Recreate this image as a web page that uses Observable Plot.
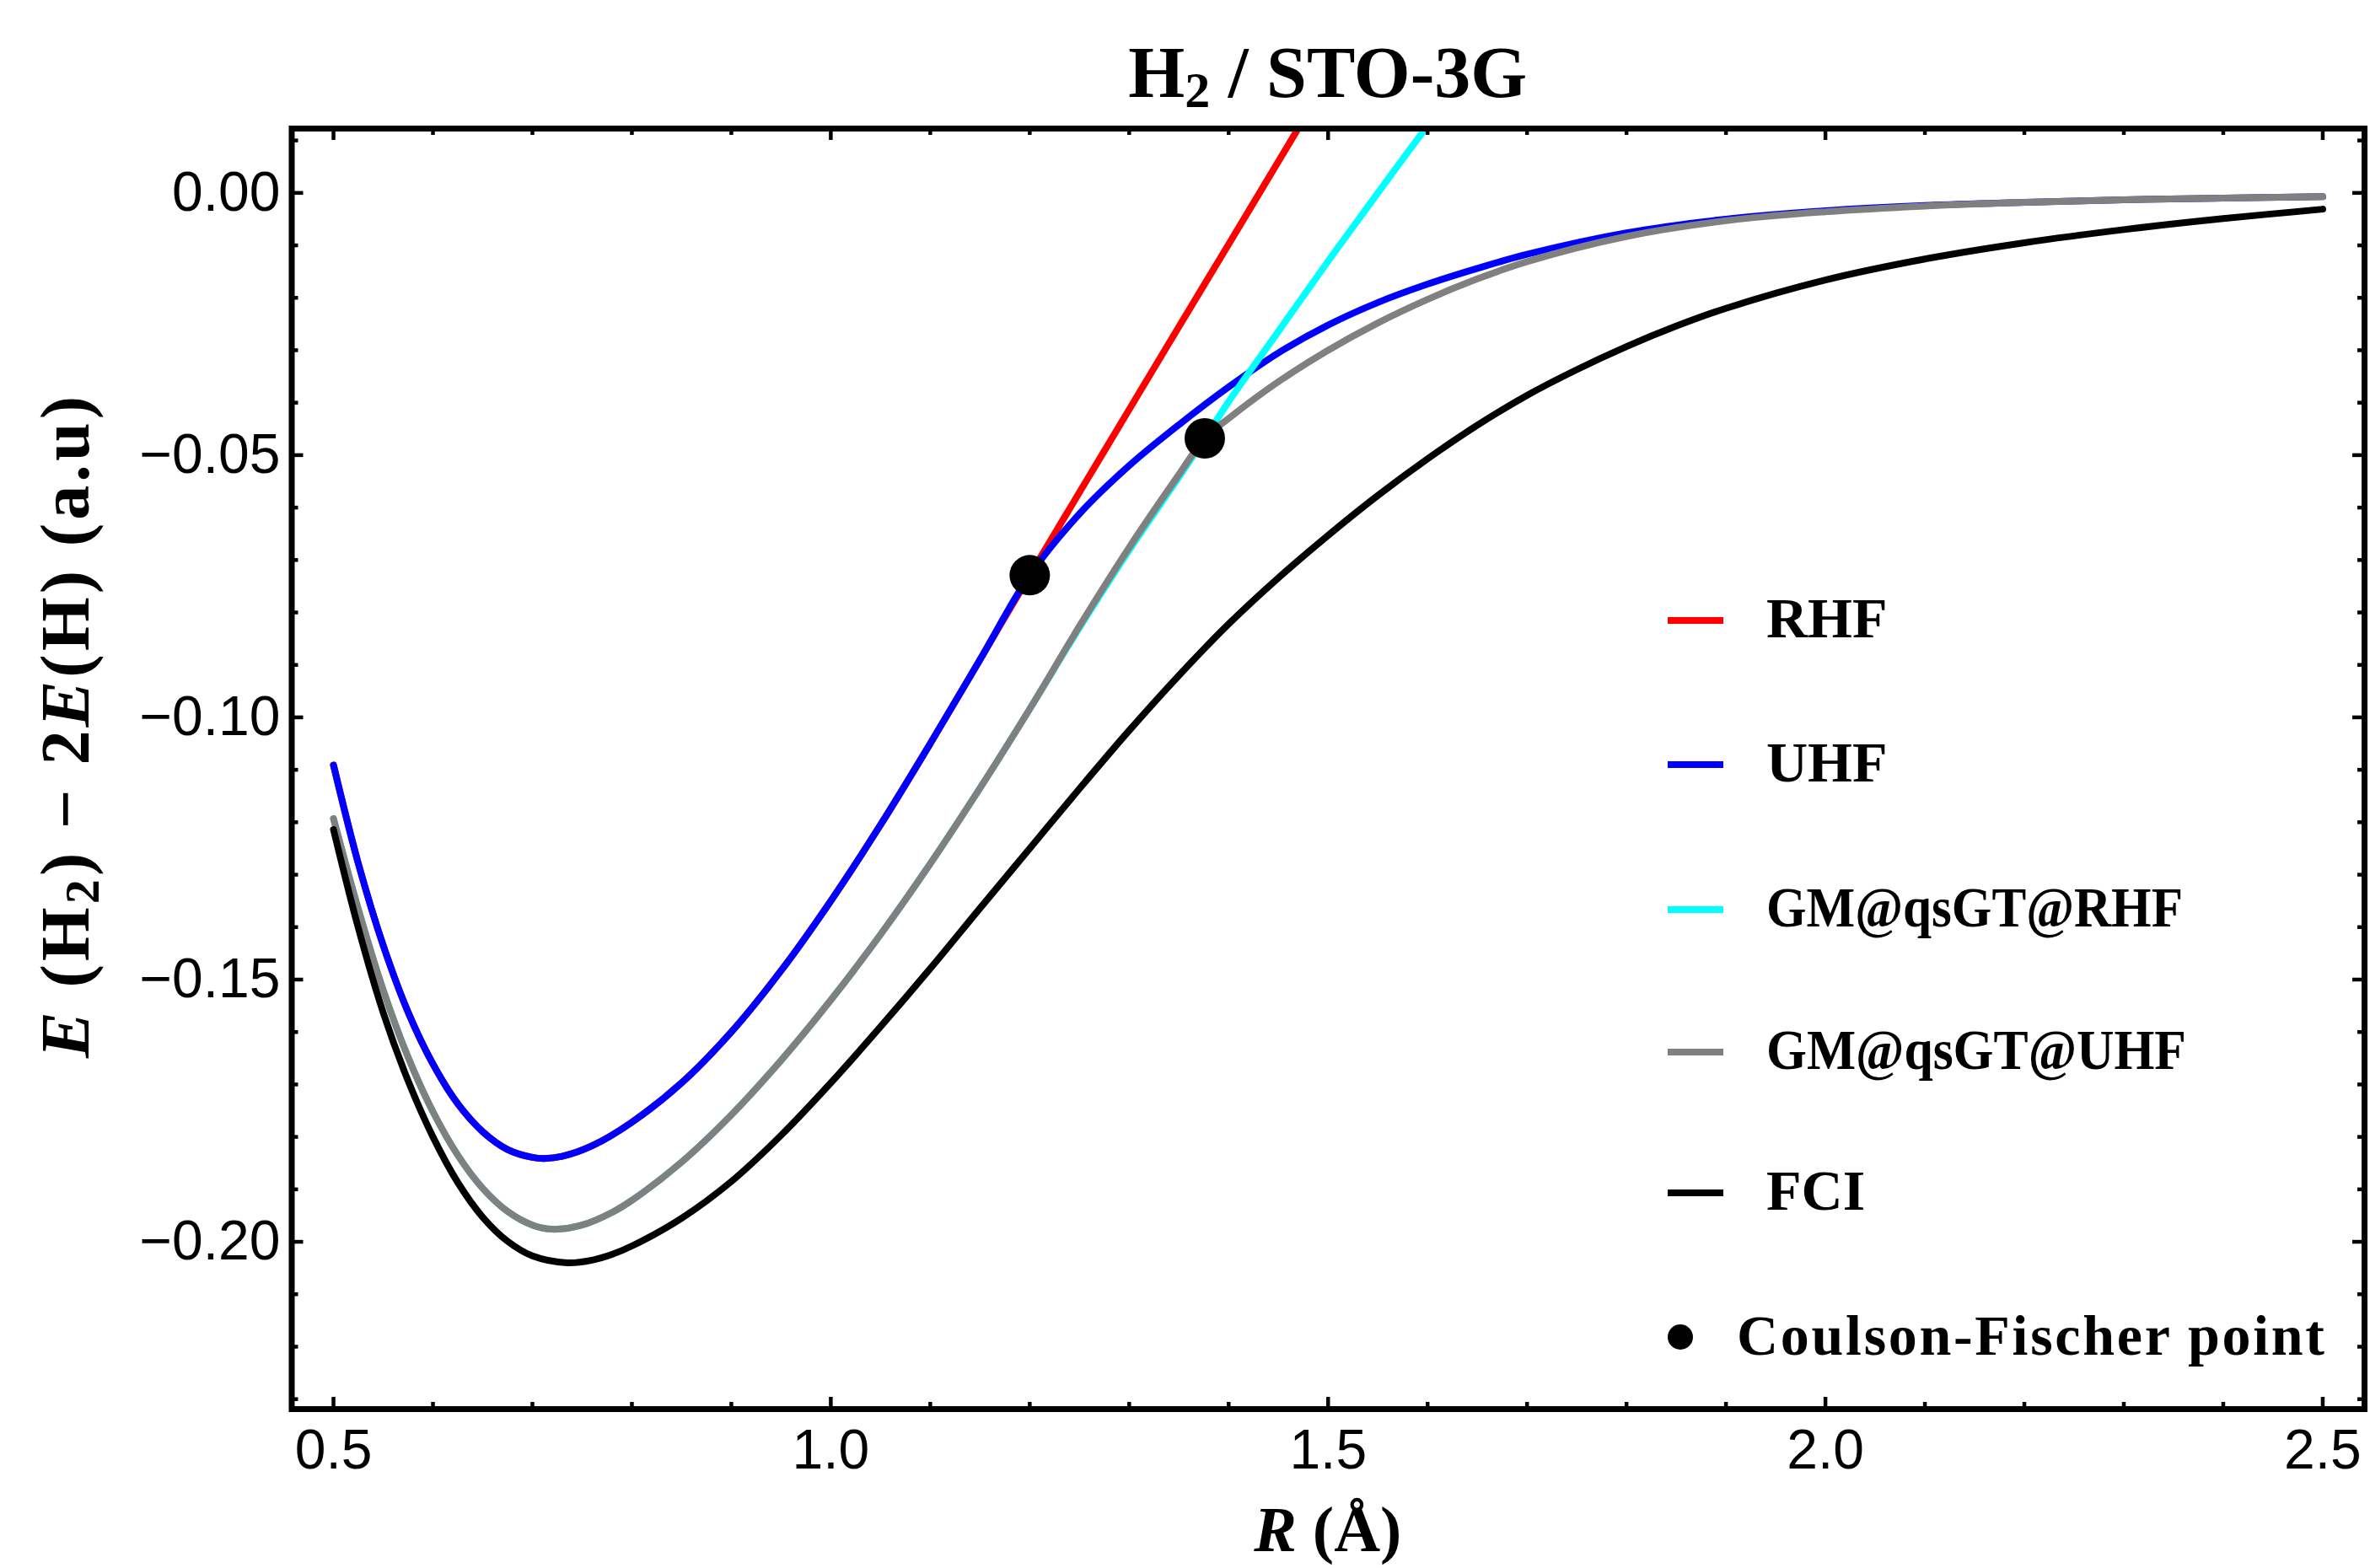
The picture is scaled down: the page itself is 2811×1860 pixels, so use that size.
<!DOCTYPE html>
<html><head><meta charset="utf-8">
<script src="https://cdn.jsdelivr.net/npm/d3@7"></script>
<script src="https://cdn.jsdelivr.net/npm/@observablehq/plot@0.6"></script>
<style>body{margin:0;background:#fff;}</style>
</head><body><div id="chart"></div>
<script>
// ---------------- data ----------------
const R_RHF = [0.50,0.525,0.55,0.575,0.60,0.625,0.65,0.675,0.70,0.712,0.73,0.76,0.80,0.85,0.90,0.95,1.00,1.05,1.10,1.15,1.20,1.25,1.30,1.35,1.40,1.45,1.50];
const E_RHF = [-0.1091,-0.1279,-0.1435,-0.1562,-0.1661,-0.1737,-0.1790,-0.1824,-0.1839,-0.1841,-0.1837,-0.1817,-0.1772,-0.1697,-0.1600,-0.1483,-0.1350,-0.1205,-0.1050,-0.0890,-0.0729,-0.0571,-0.0413,-0.0255,-0.0098,0.0060,0.0218];

const R_UHF = [0.50,0.525,0.55,0.575,0.60,0.625,0.65,0.675,0.70,0.712,0.73,0.76,0.80,0.85,0.90,0.95,1.00,1.05,1.10,1.15,1.20,1.25,1.30,1.35,1.40,1.45,1.50,1.55,1.60,1.65,1.70,1.80,1.90,2.00,2.10,2.20,2.30,2.40,2.50];
const E_UHF = [-0.1091,-0.1279,-0.1435,-0.1562,-0.1661,-0.1737,-0.1790,-0.1824,-0.1839,-0.1841,-0.1837,-0.1817,-0.1772,-0.1697,-0.1600,-0.1483,-0.1350,-0.1205,-0.1050,-0.0890,-0.0729,-0.0612,-0.0520,-0.0442,-0.0370,-0.0305,-0.0252,-0.0209,-0.0174,-0.0144,-0.0117,-0.0076,-0.0050,-0.0034,-0.0024,-0.0018,-0.0013,-0.0010,-0.0007];

const R_GMR = [0.50,0.525,0.55,0.575,0.60,0.625,0.65,0.675,0.70,0.72,0.75,0.78,0.80,0.85,0.90,0.95,1.00,1.05,1.10,1.15,1.20,1.25,1.30,1.35,1.376,1.40,1.45,1.50,1.55,1.60,1.65];
const E_GMR = [-0.1193,-0.1366,-0.1520,-0.1648,-0.1752,-0.1835,-0.1898,-0.1942,-0.1968,-0.1976,-0.1968,-0.1944,-0.1921,-0.1848,-0.1758,-0.1654,-0.1539,-0.1414,-0.1279,-0.1135,-0.0984,-0.0829,-0.0681,-0.0542,-0.0468,-0.0398,-0.0264,-0.0130,0.0000,0.0128,0.0250];

const R_GMU = [0.50,0.525,0.55,0.575,0.60,0.625,0.65,0.675,0.70,0.72,0.75,0.78,0.80,0.85,0.90,0.95,1.00,1.05,1.10,1.15,1.20,1.25,1.30,1.35,1.376,1.40,1.45,1.50,1.55,1.60,1.65,1.70,1.80,1.90,2.00,2.10,2.20,2.30,2.40,2.50];
const E_GMU = [-0.1193,-0.1366,-0.1520,-0.1648,-0.1752,-0.1835,-0.1898,-0.1942,-0.1968,-0.1976,-0.1968,-0.1944,-0.1921,-0.1848,-0.1758,-0.1654,-0.1539,-0.1414,-0.1279,-0.1135,-0.0984,-0.0826,-0.0676,-0.0537,-0.0468,-0.0430,-0.0360,-0.0300,-0.0248,-0.0203,-0.0164,-0.0131,-0.0083,-0.0053,-0.0036,-0.0025,-0.0018,-0.0013,-0.0010,-0.0007];

const R_FCI = [0.50,0.525,0.55,0.575,0.60,0.625,0.65,0.675,0.70,0.735,0.76,0.78,0.80,0.85,0.90,0.95,1.00,1.05,1.10,1.15,1.20,1.25,1.30,1.35,1.40,1.45,1.50,1.55,1.60,1.65,1.70,1.75,1.80,1.85,1.90,2.00,2.10,2.20,2.30,2.40,2.50];
const E_FCI = [-0.1214,-0.1402,-0.1563,-0.1693,-0.1800,-0.1887,-0.1953,-0.1999,-0.2027,-0.2040,-0.2035,-0.2024,-0.2008,-0.1955,-0.1885,-0.1797,-0.1697,-0.1590,-0.1479,-0.1364,-0.1250,-0.1136,-0.1025,-0.0920,-0.0822,-0.0734,-0.0653,-0.0577,-0.0507,-0.0443,-0.0386,-0.0337,-0.0293,-0.0254,-0.0220,-0.0166,-0.0126,-0.0095,-0.0070,-0.0049,-0.0031];

const R_CF = [1.200, 1.376];
const E_CF = [-0.0729, -0.0468];

const xMajor = [0.5, 1.0, 1.5, 2.0, 2.5];
const xMinor = [0.6,0.7,0.8,0.9,1.1,1.2,1.3,1.4,1.6,1.7,1.8,1.9,2.1,2.2,2.3,2.4];
const yMajor = [0, -0.05, -0.10, -0.15, -0.20];
const yMinor = [0.01,-0.01,-0.02,-0.03,-0.04,-0.06,-0.07,-0.08,-0.09,-0.11,-0.12,-0.13,-0.14,-0.16,-0.17,-0.18,-0.19,-0.21,-0.22,-0.23];
const xDomain = [0.458, 2.542];
const yDomain = [-0.2319, 0.01227];

const legendNames = ["RHF", "UHF", "GM@qsGT@RHF", "GM@qsGT@UHF", "FCI"];
const legendColors = ["#ff0000", "#0000ff", "#00ffff", "#808080", "#000000"];
const cfLabel = "Coulson-Fischer point";

// ---------------- layout ----------------
const W = 2811, H = 1860, mL = 345.5, mR = 7, mT = 152, mB = 189;
const plotW = W - mL - mR, plotH = H - mT - mB;
const rows = (R, E) => R.map((r, i) => ({R: r, E: E[i]}));
const lineOpts = (c) => ({x: "R", y: "E", stroke: c, strokeWidth: 8, curve: "catmull-rom", clip: true});
const fmtY = d => (d === 0 ? "0.00" : "\u2212" + Math.abs(d).toFixed(2));
const tk = {stroke: "black", strokeWidth: 4.5};

const chart = Plot.plot({
  width: W, height: H,
  marginLeft: mL, marginRight: mR, marginTop: mT, marginBottom: mB,
  style: {background: "white", fontFamily: "'Liberation Sans', Arial, sans-serif", color: "black"},
  x: {domain: xDomain},
  y: {domain: yDomain},
  marks: [
    Plot.line(rows(R_RHF, E_RHF), lineOpts(legendColors[0])),
    Plot.line(rows(R_UHF, E_UHF), lineOpts(legendColors[1])),
    Plot.line(rows(R_GMR, E_GMR), lineOpts(legendColors[2])),
    Plot.line(rows(R_GMU, E_GMU), lineOpts(legendColors[3])),
    Plot.line(rows(R_FCI, E_FCI), lineOpts(legendColors[4])),
    Plot.dot(rows(R_CF, E_CF), {x: "R", y: "E", r: 24, fill: "black"}),
    Plot.tickX(xMajor, {x: d => d, insetTop: plotH - 14, ...tk}),
    Plot.tickX(xMajor, {x: d => d, insetBottom: plotH - 14, ...tk}),
    Plot.tickX(xMinor, {x: d => d, insetTop: plotH - 8, ...tk}),
    Plot.tickX(xMinor, {x: d => d, insetBottom: plotH - 8, ...tk}),
    Plot.tickY(yMajor, {y: d => d, insetRight: plotW - 14, ...tk}),
    Plot.tickY(yMajor, {y: d => d, insetLeft: plotW - 14, ...tk}),
    Plot.tickY(yMinor, {y: d => d, insetRight: plotW - 8, ...tk}),
    Plot.tickY(yMinor, {y: d => d, insetLeft: plotW - 8, ...tk}),
    Plot.axisX(xMajor, {tickSize: 0, tickPadding: 24, tickFormat: d => d.toFixed(1), fontSize: 66, label: null, fill: "black"}),
    Plot.axisY(yMajor, {tickSize: 0, tickPadding: 13.5, tickFormat: fmtY, fontSize: 66, label: null, fill: "black"}),
    Plot.frame({stroke: "black", strokeWidth: 7})
  ]
});
document.getElementById("chart").appendChild(chart);

// ---------------- titles, labels, legend ----------------
const svg = d3.select(chart);
const serif = "'Liberation Serif', 'Times New Roman', serif";

const t = svg.append("text").attr("x", (mL + W - mR) / 2).attr("y", 115)
  .attr("text-anchor", "middle").attr("font-family", serif).attr("font-weight", "bold")
  .attr("font-size", 86).attr("fill", "black");
t.append("tspan").text("H");
t.append("tspan").attr("font-size", 60).attr("dy", 12).text("2");
t.append("tspan").attr("dy", -12).text(" / STO-3G");

const yl = svg.append("text").attr("transform", "translate(105,1255) rotate(-90)")
  .attr("text-anchor", "start").attr("font-family", serif).attr("font-weight", "bold")
  .attr("font-size", 82).attr("fill", "black")
  .attr("textLength", 785).attr("lengthAdjust", "spacing");
yl.append("tspan").attr("font-style", "italic").text("E");
yl.append("tspan").text(" (H");
yl.append("tspan").attr("font-size", 58).attr("dy", 12).text("2");
yl.append("tspan").attr("dy", -12).text(") \u2212 2");
yl.append("tspan").attr("font-style", "italic").text("E");
yl.append("tspan").text("(H) (a.u)");

const xl = svg.append("text").attr("x", (mL + W - mR) / 2).attr("y", 1840)
  .attr("text-anchor", "middle").attr("font-family", serif).attr("font-weight", "bold")
  .attr("font-size", 76).attr("fill", "black");
xl.append("tspan").attr("font-style", "italic").text("R");
xl.append("tspan").text(" (\u00C5)");

const legendRowsY = [736, 907, 1079, 1248, 1415];
const legendWidths = [null, null, 494, 498, null];
const lg = svg.append("g").attr("font-family", serif).attr("font-weight", "bold")
  .attr("font-size", 68).attr("text-anchor", "start");
legendNames.forEach((name, i) => {
  const y = legendRowsY[i];
  lg.append("line").attr("x1", 1978).attr("x2", 2044).attr("y1", y).attr("y2", y)
    .attr("stroke", legendColors[i]).attr("stroke-width", 8);
  const tx = lg.append("text").attr("x", 2095).attr("y", y + 20).attr("fill", "black").text(name);
  if (legendWidths[i]) tx.attr("textLength", legendWidths[i]).attr("lengthAdjust", "spacingAndGlyphs");
});
lg.append("circle").attr("cx", 1993).attr("cy", 1586).attr("r", 15).attr("fill", "black");
lg.append("text").attr("x", 2060).attr("y", 1607).attr("fill", "black")
  .attr("textLength", 697).attr("lengthAdjust", "spacing").text(cfLabel);
</script>
</body></html>
